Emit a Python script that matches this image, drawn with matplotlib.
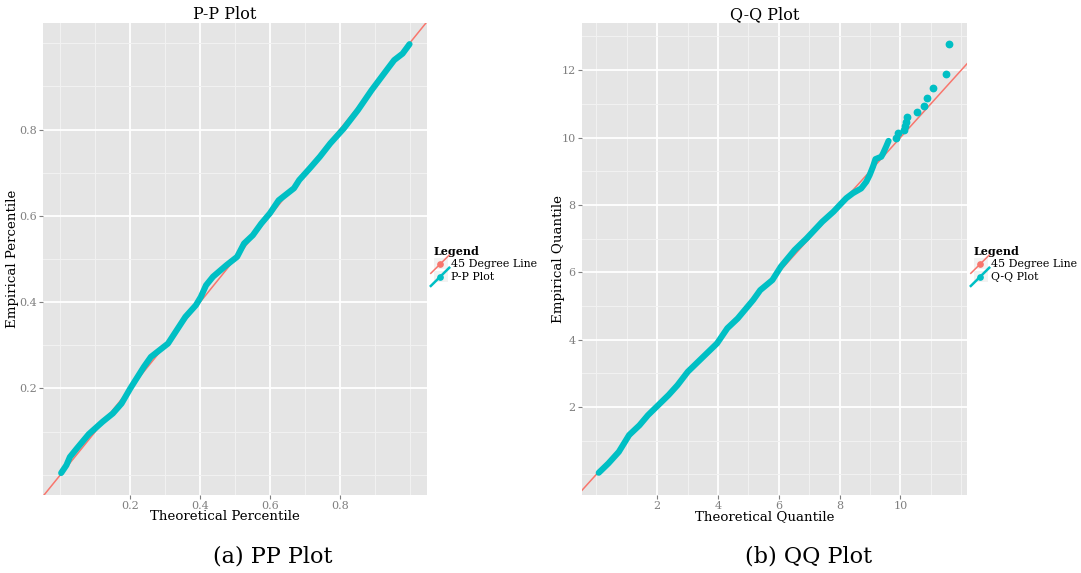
import numpy as np
import matplotlib.pyplot as plt
from matplotlib.legend_handler import HandlerBase
from matplotlib.lines import Line2D
from matplotlib.patches import Rectangle

plt.rcParams['font.family'] = 'DejaVu Serif'

# P-P plot: theoretical vs empirical cumulative percentiles
pp_theoretical = [0.002, 0.017, 0.027, 0.047, 0.081, 0.121, 0.150, 0.175, 0.200, 0.239,
                  0.259, 0.308, 0.358, 0.388, 0.402, 0.417, 0.437, 0.476, 0.506, 0.526,
                  0.551, 0.575, 0.600, 0.625, 0.669, 0.684, 0.714, 0.743, 0.773, 0.812,
                  0.852, 0.891, 0.941, 0.956, 0.980, 1.000]
pp_empirical = [0.004, 0.022, 0.041, 0.061, 0.094, 0.123, 0.142, 0.165, 0.200, 0.250,
                0.273, 0.304, 0.366, 0.393, 0.412, 0.439, 0.459, 0.486, 0.505, 0.536,
                0.555, 0.582, 0.606, 0.636, 0.664, 0.683, 0.710, 0.737, 0.768, 0.803,
                0.845, 0.891, 0.945, 0.961, 0.976, 0.998]

# Q-Q plot: theoretical vs empirical quantiles
qq_theoretical = [0.08, 0.40, 0.74, 1.08, 1.42, 1.70, 2.04, 2.38, 2.67, 3.01,
                  3.57, 3.97, 4.31, 4.65, 5.16, 5.39, 5.79, 6.07, 6.52, 6.92,
                  7.43, 7.80, 8.06, 8.22, 8.44, 8.71, 8.88, 8.99, 9.10, 9.18,
                  9.37, 9.43, 9.53, 9.61, 9.84, 9.92, 10.11, 10.14, 10.17, 10.21,
                  10.56, 10.76, 10.88, 11.08, 11.49, 11.60]
qq_empirical = [0.05, 0.33, 0.67, 1.17, 1.46, 1.76, 2.06, 2.36, 2.65, 3.05,
                3.54, 3.89, 4.34, 4.63, 5.18, 5.47, 5.77, 6.17, 6.66, 7.01,
                7.50, 7.80, 8.05, 8.20, 8.35, 8.49, 8.69, 8.89, 9.14, 9.36,
                9.43, 9.53, 9.73, 9.90, 10.00, 10.13, 10.23, 10.35, 10.45, 10.61,
                10.75, 10.94, 11.17, 11.46, 11.88, 12.77]

pp_ticks = [0.2, 0.4, 0.6, 0.8]
pp_minor = [0.0, 0.1, 0.3, 0.5, 0.7, 0.9, 1.0]
qq_xticks = [2, 4, 6, 8, 10]
qq_xminor = [0, 1, 3, 5, 7, 9, 11, 12]
qq_yticks = [2, 4, 6, 8, 10, 12]
qq_yminor = [0, 1, 3, 5, 7, 9, 11, 13]

RED = '#F8766D'
TEAL = '#00BFC4'
GREY_TEXT = '#7F7F7F'


class DiagonalKey(HandlerBase):
    """ggplot-like legend key: grey box, diagonal line and a dot."""

    def create_artists(self, legend, orig_handle, xdescent, ydescent,
                       width, height, fontsize, trans):
        x0, y0 = -xdescent, -ydescent
        bg = Rectangle((x0, y0), width, height, facecolor='#F2F2F2',
                       edgecolor='none', transform=trans)
        line = Line2D([x0 - 2, x0 + width + 1], [y0 - 3, y0 + height + 2],
                      color=orig_handle.get_color(),
                      lw=orig_handle.get_linewidth(), transform=trans)
        dot = Line2D([x0 + width / 2 - 0.5], [y0 + height / 2 - 0.5],
                     marker='o', ms=3.8, color=orig_handle.get_color(), lw=0,
                     transform=trans)
        return [bg, line, dot]


def style_panel(ax, xticks, xminor, yticks, yminor, xlim, ylim):
    ax.set_facecolor('#E5E5E5')
    for spine in ax.spines.values():
        spine.set_visible(False)
    ax.set_xlim(*xlim)
    ax.set_ylim(*ylim)
    ax.set_xticks(xticks)
    ax.set_yticks(yticks)
    ax.set_xticks(xminor, minor=True)
    ax.set_yticks(yminor, minor=True)
    ax.set_xticklabels([f'{t:g}' for t in xticks])
    ax.set_yticklabels([f'{t:g}' for t in yticks])
    ax.grid(which='major', color='white', linewidth=1.3)
    ax.grid(which='minor', color='#F2F2F2', linewidth=0.7)
    ax.set_axisbelow(True)
    ax.tick_params(which='major', length=3, width=0.8, color=GREY_TEXT,
                   labelcolor=GREY_TEXT, labelsize=8, pad=1.5)
    ax.tick_params(which='minor', length=0)


def draw_panel(ax, x, y, dense_until, title, xlabel, ylabel, label):
    ax.axline((0, 0), slope=1, color=RED, linewidth=1.1, zorder=2)
    x = np.asarray(x)
    y = np.asarray(y)
    dense = x <= dense_until
    ax.plot(x[dense], y[dense], color=TEAL, linewidth=4.4,
            solid_capstyle='round', solid_joinstyle='round', zorder=3)
    ax.plot(x[~dense], y[~dense], 'o', color=TEAL, markersize=4.6, zorder=3)

    ax.text(0.474, 1.009, title, transform=ax.transAxes, ha='center',
            va='baseline', fontsize=11.5)
    ax.set_xlabel(xlabel, fontsize=9.6)
    ax.xaxis.set_label_coords(0.474, -0.031)
    ax.set_ylabel(ylabel, fontsize=9.6)

    handles = [Line2D([], [], color=RED, linewidth=1.1),
               Line2D([], [], color=TEAL, linewidth=1.8)]
    leg = ax.legend(handles, ['45 Degree Line', label], title='Legend',
                    loc='center left', bbox_to_anchor=(1.0, 0.49),
                    frameon=False, fontsize=7.9, title_fontsize=8.0,
                    handler_map={Line2D: DiagonalKey()},
                    handlelength=1.3, handleheight=1.2, handletextpad=0.3,
                    labelspacing=0.12, borderaxespad=0.4, borderpad=0.2)
    leg.get_title().set_fontweight('bold')
    leg._legend_box.align = 'left'


fig = plt.figure(figsize=(10.81, 5.73), dpi=100)
ax_pp = fig.add_axes([43 / 1081, 78 / 573, 384 / 1081, 472 / 573])
ax_qq = fig.add_axes([582 / 1081, 78 / 573, 385 / 1081, 472 / 573])

style_panel(ax_pp, pp_ticks, pp_minor, pp_ticks, pp_minor,
            (-0.05, 1.05), (-0.047, 1.047))
draw_panel(ax_pp, pp_theoretical, pp_empirical, 1.0, 'P-P Plot',
           'Theoretical Percentile', 'Empirical Percentile', 'P-P Plot')
ax_pp.yaxis.set_label_coords(-0.062, 0.5)

style_panel(ax_qq, qq_xticks, qq_xminor, qq_yticks, qq_yminor,
            (-0.47, 12.19), (-0.61, 13.40))
draw_panel(ax_qq, qq_theoretical, qq_empirical, 9.61, 'Q-Q Plot',
           'Theoretical Quantile', 'Empirical Quantile', 'Q-Q Plot')
ax_qq.yaxis.set_label_coords(-0.045, 0.5)

fig.text(273 / 1081, 1 - 556 / 573, '(a) PP Plot', ha='center', va='center',
         fontsize=16)
fig.text(809 / 1081, 1 - 556 / 573, '(b) QQ Plot', ha='center', va='center',
         fontsize=16)

plt.savefig('out.png', dpi=100)
plt.close()
